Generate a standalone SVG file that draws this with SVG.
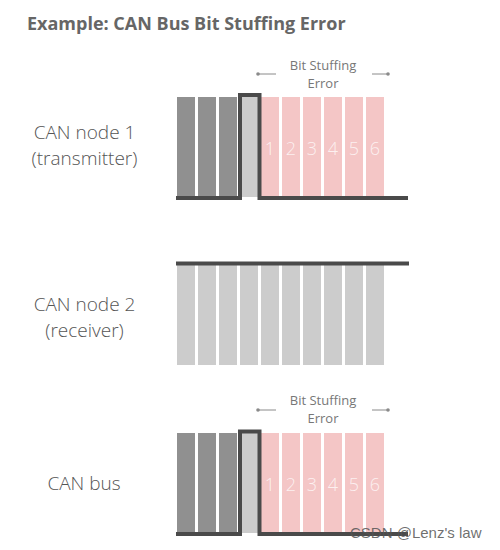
<svg xmlns="http://www.w3.org/2000/svg" width="500" height="550" viewBox="0 0 500 550">
<style>
.title{font-family:"Open Sans","Liberation Sans",sans-serif;font-weight:700;font-size:18px;fill:#666}
.lbl{font-family:"Open Sans","Liberation Sans",sans-serif;font-weight:300;font-size:19px;fill:#555;text-anchor:middle}
.small{font-family:"Open Sans","Liberation Sans",sans-serif;font-size:13px;fill:#777;text-anchor:middle}
.num{font-family:"Open Sans","Liberation Sans",sans-serif;font-weight:300;font-size:18px;fill:#fff;fill-opacity:0.75;text-anchor:middle}
.dk{fill:#909090}
.lt{fill:#cccccc}
.pk{fill:#f4c6c6}
.sig{fill:none;stroke:#4a4a4a;stroke-width:4}
.tick{stroke:#8a8a8a;stroke-width:1}
.dot{fill:#8a8a8a}
.wm{font-family:"Liberation Sans",Arial,sans-serif;font-size:15px;fill:#555;fill-opacity:0.85}
</style>
<rect width="500" height="550" fill="#fff"/>
<text class="title" x="27" y="29.5">Example: CAN Bus Bit Stuffing Error</text>

<g id="node1">
  <text class="lbl" x="84.5" y="139">CAN node 1</text>
  <text class="lbl" x="84.5" y="165">(transmitter)</text>
  <rect class="dk" x="177" y="97" width="18" height="100"/>
  <rect class="dk" x="198" y="97" width="18" height="100"/>
  <rect class="dk" x="219" y="97" width="18" height="100"/>
  <rect class="lt" x="240" y="97" width="18" height="100"/>
  <rect class="pk" x="261" y="97" width="18" height="100"/>
  <rect class="pk" x="282" y="97" width="18" height="100"/>
  <rect class="pk" x="303" y="97" width="18" height="100"/>
  <rect class="pk" x="324" y="97" width="18" height="100"/>
  <rect class="pk" x="345" y="97" width="18" height="100"/>
  <rect class="pk" x="366" y="97" width="18" height="100"/>
  <text class="num" x="270" y="155">1</text>
  <text class="num" x="291" y="155">2</text>
  <text class="num" x="312" y="155">3</text>
  <text class="num" x="333" y="155">4</text>
  <text class="num" x="354" y="155">5</text>
  <text class="num" x="375" y="155">6</text>
  <text class="small" x="323" y="70">Bit Stuffing</text>
  <text class="small" x="323" y="88">Error</text>
  <line class="tick" x1="258" y1="74" x2="276" y2="74"/>
  <line class="tick" x1="372" y1="74" x2="388" y2="74"/>
  <circle class="dot" cx="258" cy="74" r="1.8"/>
  <circle class="dot" cx="388" cy="74" r="1.8"/>
</g>

<g id="node2">
  <text class="lbl" x="84.5" y="311">CAN node 2</text>
  <text class="lbl" x="84.5" y="337">(receiver)</text>
  <rect class="lt" x="177" y="265" width="18" height="100"/>
  <rect class="lt" x="198" y="265" width="18" height="100"/>
  <rect class="lt" x="219" y="265" width="18" height="100"/>
  <rect class="lt" x="240" y="265" width="18" height="100"/>
  <rect class="lt" x="261" y="265" width="18" height="100"/>
  <rect class="lt" x="282" y="265" width="18" height="100"/>
  <rect class="lt" x="303" y="265" width="18" height="100"/>
  <rect class="lt" x="324" y="265" width="18" height="100"/>
  <rect class="lt" x="345" y="265" width="18" height="100"/>
  <rect class="lt" x="366" y="265" width="18" height="100"/>
</g>

<g id="bus">
  <text class="lbl" x="84" y="490">CAN bus</text>
  <rect class="dk" x="177" y="433" width="18" height="100"/>
  <rect class="dk" x="198" y="433" width="18" height="100"/>
  <rect class="dk" x="219" y="433" width="18" height="100"/>
  <rect class="lt" x="240" y="433" width="18" height="100"/>
  <rect class="pk" x="261" y="433" width="18" height="100"/>
  <rect class="pk" x="282" y="433" width="18" height="100"/>
  <rect class="pk" x="303" y="433" width="18" height="100"/>
  <rect class="pk" x="324" y="433" width="18" height="100"/>
  <rect class="pk" x="345" y="433" width="18" height="100"/>
  <rect class="pk" x="366" y="433" width="18" height="100"/>
  <text class="num" x="270" y="491">1</text>
  <text class="num" x="291" y="491">2</text>
  <text class="num" x="312" y="491">3</text>
  <text class="num" x="333" y="491">4</text>
  <text class="num" x="354" y="491">5</text>
  <text class="num" x="375" y="491">6</text>
  <text class="small" x="323" y="405">Bit Stuffing</text>
  <text class="small" x="323" y="423">Error</text>
  <line class="tick" x1="258" y1="410" x2="276" y2="410"/>
  <line class="tick" x1="372" y1="410" x2="388" y2="410"/>
  <circle class="dot" cx="258" cy="410" r="1.8"/>
  <circle class="dot" cx="388" cy="410" r="1.8"/>
</g>

<g id="connectors">
  <path class="sig" d="M176 198 H240 V95 H259.5 V198 H408"/>
  <path class="sig" d="M176 263.5 H409"/>
  <path class="sig" d="M176 534 H240 V431.5 H259.5 V534 H408"/>
</g>

<text class="wm" x="350" y="538">CSDN @Lenz's law</text>
</svg>
